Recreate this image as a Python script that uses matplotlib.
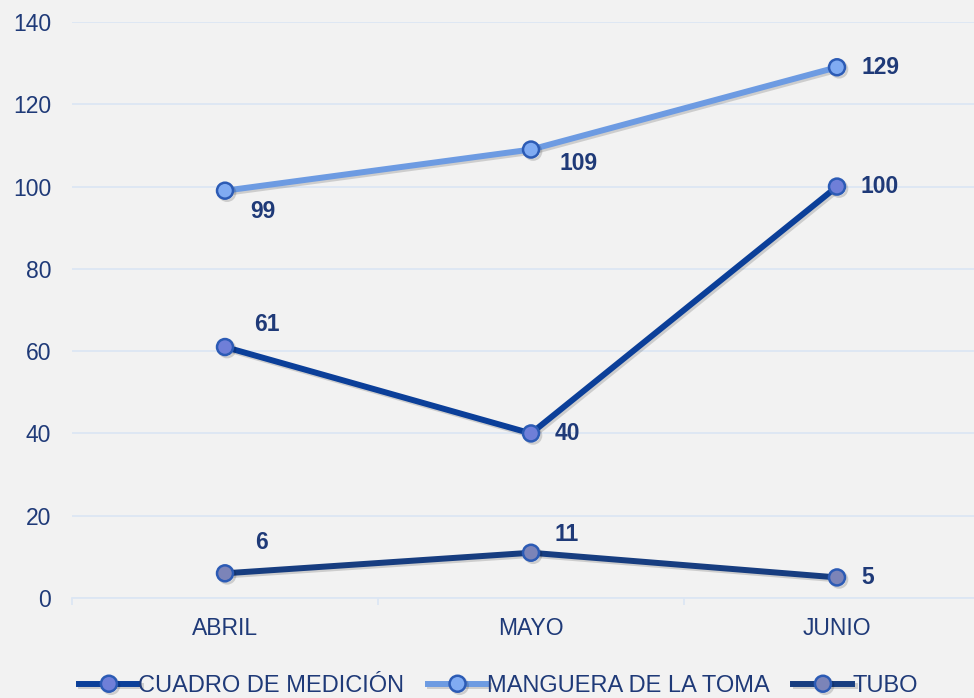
import matplotlib
matplotlib.use("Agg")
import matplotlib.pyplot as plt
import matplotlib.patheffects as pe

months = ["ABRIL", "MAYO", "JUNIO"]
cuadro = [61, 40, 100]
manguera = [99, 109, 129]
tubo = [6, 11, 5]
series_names = ["CUADRO DE MEDICIÓN", "MANGUERA DE LA TOMA", "TUBO"]
y_ticks = [0, 20, 40, 60, 80, 100, 120, 140]

# label offsets in points (dx, dy) per series / point
cuadro_off = [(30, 16), (26, 0), (31, 0)]
manguera_off = [(27, -15), (34, -10), (31, 0)]
tubo_off = [(26, 22), (26, 13), (22, 0)]

plt.rcParams["font.family"] = ["Liberation Sans", "DejaVu Sans"]
bg = "#F2F2F2"
grid_c = "#DCE6F4"
text_c = "#1F3A78"

fig = plt.figure(figsize=(9.74, 6.98), dpi=100, facecolor=bg)
ax = fig.add_axes([72 / 974, 100 / 698, 1 - 72 / 974, 576 / 698])
ax.set_facecolor(bg)

x = list(range(len(months)))
shadow = [pe.SimpleLineShadow(offset=(1.5, -1.5), shadow_color="#000000", alpha=0.15), pe.Normal()]

styles = [
    (cuadro, cuadro_off, "#0B3F99", "#6F7FD8"),
    (manguera, manguera_off, "#6D9BE2", "#80ABF2"),
    (tubo, tubo_off, "#173D80", "#7C84B8"),
]
handles = []
for (vals, offs, lc, mfc), name in zip(styles, series_names):
    ln, = ax.plot(x, vals, color=lc, lw=4.3, marker="o", ms=11.5,
                  mfc=mfc, mec="#2C5BB5", mew=1.8, label=name,
                  path_effects=shadow, zorder=3)
    handles.append(ln)
    for xi, v, (dx, dy) in zip(x, vals, offs):
        ax.annotate(str(v), (xi, v), xytext=(dx, dy), textcoords="offset points",
                    ha="center", va="center", fontsize=16.5, fontweight="bold",
                    color=text_c, zorder=4)

ax.set_xlim(-0.5, (974 - 72) / 306 - 0.5)
ax.set_ylim(0, 140)
ax.set_yticks(y_ticks)
ax.set_xticks(x)
ax.set_xticklabels(months)
ax.set_xticks([-0.5, 0.5, 1.5], minor=True)

ax.grid(axis="y", color=grid_c, lw=1.3)
ax.set_axisbelow(True)
for s in ["top", "right", "left"]:
    ax.spines[s].set_visible(False)
ax.spines["bottom"].set_color(grid_c)
ax.spines["bottom"].set_linewidth(1.3)

ax.tick_params(axis="y", length=0, pad=15, labelsize=16.5, labelcolor=text_c)
ax.tick_params(axis="x", which="major", length=0, pad=14, labelsize=16.5, labelcolor=text_c)
ax.tick_params(axis="x", which="minor", length=5, width=1.3, color=grid_c)

fig.legend(handles=handles, loc="center", bbox_to_anchor=(0.512, 12 / 698),
           ncol=3, frameon=False, fontsize=17, handlelength=2.5,
           handletextpad=0.0, columnspacing=1.0, labelcolor=text_c)

fig.savefig("out.png", dpi=100, facecolor=bg)
